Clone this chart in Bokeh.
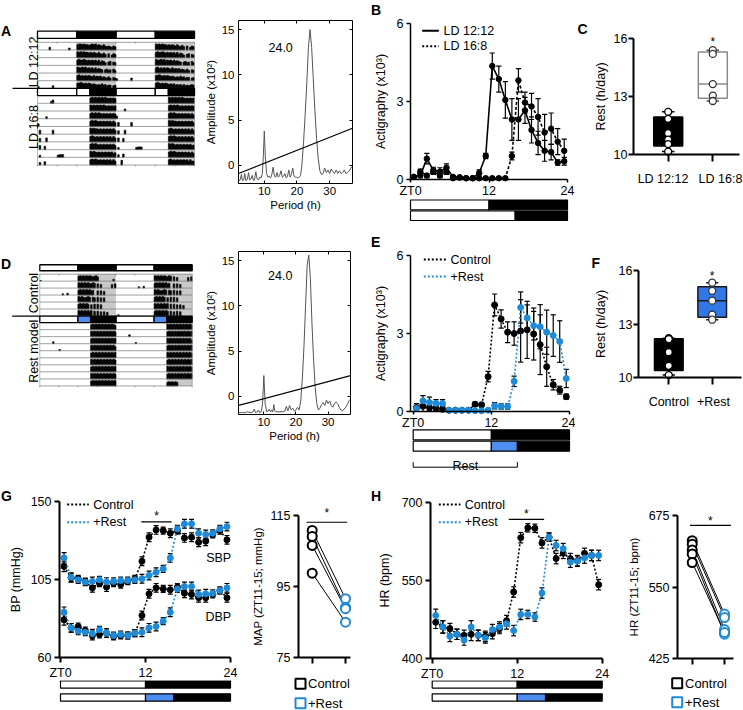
import math
import numpy as np
from bokeh.plotting import figure
from bokeh.models import Range1d, LinearAxis, FixedTicker
from bokeh.layouts import row, column
from bokeh.embed import file_html
from bokeh.resources import INLINE
from bokeh.core.properties import value

FONT = "Liberation Sans"
BLUE = "#1f8ad8"
BOX_BLUE = "#3178e6"
BAR_BLUE = "#4d8ef0"
SHADE = "#c9c9c9"
PHASE = {"light": "white", "dark": "black", "rest": BAR_BLUE}

# ---------------------------------------------------------------- data
sched_1212 = [(0, 12, "light"), (12, 24, "dark")]
sched_168 = [(0, 16, "light"), (16, 24, "dark")]
sched_168_act = [(0, 12, "light"), (12, 16, "light"), (16, 24, "dark")]
sched_rest = [(0, 12, "light"), (12, 16, "rest"), (16, 24, "dark")]
dark_1212 = [(12, 24)]
dark_168 = [(16, 24)]
rest_window = [0, 16]

# actogram activity, one string per day, one digit per 0.5 h bin (0-9 height)
a1212_days = [
    "000000040000000000030000" "899898878989787686565465",
    "000000000000000000000000" "989898878787686575060465",
    "000000000000000000000000" "898898787878685764056054",
    "000000000000000000000000" "988989787868676505645064",
    "000000000000000000000000" "897878787686767565464054",
    "300000000400000000000000" "889878787676565756455045",
    "000000000000000000000000" "898787876767565646454565",
]
a168_days = [
    "00000000350000000000000000000000" "8989898989878787",
    "00000000000000000000000000000000" "9898989898787878",
    "00000300000000000000000000000000" "8989898787878787",
    "40000000000000000000000000000000" "8989878787878686",
    "06000000060000000000000000000000" "9898878787878786",
    "05000600000000000000000000000000" "8987878787878686",
    "06005000000000000000000000000000" "8989878787878786",
    "03000000000034440000000000000000" "9898787878787867",
    "04005000000000000000000000000000" "8989878787878686",
    "00070000000000000000000000000000" "8978787878786866",
]
ctrl_days = [
    "100000000000000000000000" "898989898789700000000030",
    "000000000000000000000000" "989898987980706000000607",
    "000000000000002003000000" "898989897800707060000000",
    "000000000000000000000000" "989878980870807070000000",
    "000000000000000000000000" "898989807080807000000000",
    "000000000000000000000000" "989898989080807070600000",
    "020000000000000000000000" "898989898080708070000000",
]
rest_days = [
    "00000000000000000000000000000000" "8989898989898987",
    "00000000000000000000000000000000" "9898989898989898",
    "00000000300000000000000000000000" "8989898989898989",
    "00000000000020000000000000000000" "9898989898989897",
    "00000000000000000000000000000000" "8989898989898989",
    "00000000000000000000000000000000" "9898989898989898",
    "00000000000000000000000000000000" "8989898989898989",
    "00000000000000000000000000000000" "9898989898989898",
    "00000000000000000000000000000000" "8989898989898989",
    "00000000000000000000000000000000" "6767676000000000",
]

# periodograms
per_a = [2.2, 2.6, 3.0, 3.3, 3.7, 4.0, 4.4, 4.8, 5.2, 5.5, 5.9, 6.3, 6.7, 7.0, 7.4, 7.8, 8.2, 8.6, 9.0, 9.4,
         9.7, 10.0, 10.3, 10.7, 11.1, 11.5, 11.9, 12.3, 12.7, 13.1, 13.5, 13.9, 14.3, 14.7, 15.1, 15.5, 15.9,
         16.3, 16.7, 17.1, 17.5, 17.9, 18.3, 18.7, 19.1, 19.5, 19.9, 20.3, 20.7, 21.1, 21.5, 22.0, 22.5, 23.0,
         23.5, 24.0, 24.5, 25.0, 25.5, 26.0, 26.5, 27.0, 27.5, 28.0, 28.5, 29.0, 29.5, 30.0, 30.5, 31.0, 31.5,
         32.0, 32.5, 33.0, 33.5, 34.0, 34.5, 35.0, 35.5, 36.0, 36.5, 37.0]
amp_a = [-1.7, -1.6, -1.0, -1.7, -1.6, -0.9, -1.7, -1.5, -0.8, -1.6, -1.5, -1.1, -1.7, -1.6, -0.7, -1.5, -1.6,
         -1.3, -1.4, -0.9, 1.0, 3.8, 1.0, -0.9, -1.3, -1.2, -1.4, -1.0, -0.2, -1.2, -1.3, -0.8, -1.3, -1.1, -0.6,
         -1.3, -1.2, -0.9, -1.4, -1.2, -0.5, -1.3, -1.0, -0.3, -1.2, -1.3, -1.3, -1.4, -1.3, -1.1, 0.0, 2.5, 5.5,
         9.0, 13.0, 15.0, 13.0, 9.5, 6.0, 3.0, 0.8, -0.6, -1.0, -0.9, -0.3, -0.8, -0.5, -0.9, -0.4, -0.7, -0.9,
         -0.5, -0.9, -0.6, -0.9, -0.8, -0.5, -0.9, -0.8, -0.6, -0.3, -0.1]
sig_a_x = [2.1, 37.0]
sig_a_y = [-0.9, 4.1]
peak_a = 24.0
per_d = [2.2, 3.0, 4.0, 5.0, 6.0, 6.6, 7.0, 7.4, 8.0, 8.3, 8.7, 9.2, 9.6, 10.0, 10.4, 10.9, 11.4, 11.7, 12.1,
         12.5, 12.8, 13.1, 13.4, 13.7, 14.2, 15.0, 16.0, 16.6, 17.0, 17.5, 18.0, 18.5, 19.0, 19.5, 20.0, 20.5,
         21.0, 21.5, 22.0, 22.5, 23.0, 23.5, 24.0, 24.5, 25.0, 25.5, 26.0, 26.5, 27.0, 27.5, 28.0, 28.5, 29.0,
         29.5, 30.0, 30.5, 31.0, 31.5, 32.0, 32.5, 33.0, 33.5, 34.0, 34.5, 35.0, 35.5, 36.0, 36.5, 37.0]
amp_d = [-1.8, -1.8, -1.8, -1.7, -1.8, -1.7, -1.4, -1.8, -1.7, -1.5, -1.8, -1.7, -0.8, 2.3, -0.8, -1.7, -1.6,
         -1.4, -1.7, -1.5, -1.7, -0.9, -1.6, -1.7, -1.7, -1.7, -1.7, -1.6, -1.1, -1.6, -1.0, -1.5, -1.3, -1.6,
         -1.5, -1.2, -1.5, -0.5, 2.0, 5.5, 10.0, 14.5, 15.6, 13.0, 8.0, 4.0, 1.0, -0.8, -1.5, -1.3, -0.9, -0.7,
         -1.0, -0.4, -0.8, -0.5, -1.0, -1.2, -0.8, -0.6, -0.8, -1.2, -1.5, -1.6, -1.4, -1.2, -0.9, -0.5, -0.3]
sig_d_x = [2.1, 37.0]
sig_d_y = [-1.0, 2.3]
peak_d = 24.0

zt = [0.5, 1.5, 2.5, 3.5, 4.5, 5.5, 6.5, 7.5, 8.5, 9.5, 10.5, 11.5,
      12.5, 13.5, 14.5, 15.5, 16.5, 17.5, 18.5, 19.5, 20.5, 21.5, 22.5, 23.5]

b_ld1212 = [0.10, 0.15, 0.80, 0.35, 0.30, 0.45, 0.10, 0.08, 0.05, 0.05, 0.25, 0.90,
            4.35, 3.85, 3.05, 2.30, 2.30, 2.65, 1.90, 1.40, 1.10, 1.05, 0.65, 0.70]
b_ld1212_sem = [0.05, 0.08, 0.20, 0.12, 0.15, 0.15, 0.05, 0.05, 0.03, 0.03, 0.12, 0.10,
                0.50, 0.50, 0.70, 0.80, 0.80, 0.50, 0.50, 0.45, 0.40, 0.30, 0.10, 0.15]
b_ld168 = [0.10, 0.30, 0.15, 0.30, 0.15, 0.30, 0.05, 0.08, 0.05, 0.05, 0.05, 0.05,
           0.05, 0.05, 0.05, 0.90, 3.80, 2.95, 2.80, 2.40, 1.80, 1.95, 1.45, 1.10]
b_ld168_sem = [0.05, 0.10, 0.08, 0.10, 0.08, 0.10, 0.03, 0.03, 0.03, 0.03, 0.03, 0.03,
               0.03, 0.03, 0.03, 0.15, 0.45, 0.40, 0.50, 0.70, 0.70, 0.60, 0.50, 0.45]

c_groups = ["LD 12:12", "LD 16:8"]
c_ld1212 = [12.21, 11.85, 11.11, 10.78, 10.55, 10.16]
c_ld168 = [15.39, 15.20, 13.64, 13.05, 12.77]

e_control = [0.15, 0.20, 0.15, 0.13, 0.09, 0.05, 0.05, 0.05, 0.05, 0.28, 0.26, 1.34,
             4.10, 3.56, 3.05, 3.00, 3.10, 3.14, 2.98, 2.57, 1.72, 1.03, 0.82, 0.57]
e_control_sem = [0.15, 0.20, 0.12, 0.10, 0.10, 0.05, 0.05, 0.05, 0.05, 0.08, 0.08, 0.20,
                 0.42, 0.35, 0.40, 0.45, 1.20, 1.10, 1.00, 1.15, 0.75, 0.20, 0.15, 0.10]
e_rest = [0.12, 0.41, 0.35, 0.31, 0.31, 0.05, 0.05, 0.05, 0.05, 0.03, 0.03, 0.05,
          0.22, 0.19, 0.19, 1.16, 4.00, 3.60, 3.30, 3.26, 3.05, 2.92, 2.69, 1.27]
e_rest_sem = [0.10, 0.20, 0.20, 0.15, 0.15, 0.03, 0.03, 0.03, 0.03, 0.03, 0.03, 0.03,
              0.12, 0.10, 0.10, 0.20, 0.60, 0.50, 0.55, 0.85, 0.85, 0.80, 0.80, 0.35]

f_groups = ["Control", "+Rest"]
f_control = [12.22, 12.17, 11.44, 10.67, 10.15]
f_rest = [15.34, 14.88, 14.33, 13.54, 13.26]

g_sbp_control = [112.5, 106.0, 105.4, 103.8, 100.2, 102.9, 100.6, 102.9, 102.1, 104.0, 105.4, 115.5,
                 129.3, 133.5, 133.1, 131.6, 133.0, 128.9, 129.3, 126.4, 127.0, 130.9, 133.1, 127.8]
g_sbp_rest = [117.4, 106.3, 104.8, 103.5, 103.9, 104.8, 103.5, 103.9, 104.4, 104.4, 104.8, 105.4,
              107.3, 109.2, 111.1, 117.4, 134.1, 137.0, 137.0, 131.6, 130.9, 131.6, 134.1, 135.4]
g_dbp_control = [81.8, 77.2, 78.0, 75.7, 72.8, 73.4, 74.2, 72.3, 72.8, 72.8, 74.2, 84.3,
                 96.8, 100.2, 99.6, 99.1, 100.6, 97.1, 96.4, 94.5, 94.5, 96.4, 98.7, 94.5]
g_dbp_rest = [86.2, 77.2, 75.3, 74.7, 73.8, 76.1, 74.2, 72.8, 73.4, 72.8, 74.2, 74.7,
              77.2, 78.0, 81.1, 86.2, 99.6, 101.0, 101.0, 96.4, 96.8, 97.1, 98.7, 100.2]
g_sem = [3.0, 2.5, 2.0, 2.0, 2.5, 2.0, 2.5, 2.0, 2.0, 2.0, 2.0, 2.5,
         2.5, 2.5, 2.0, 2.5, 2.0, 2.5, 2.5, 2.5, 2.5, 2.0, 2.0, 2.5]
g_sig = [11.4, 15.7]
map_control = [110.8, 109.1, 106.6, 98.8]
map_rest = [91.6, 89.2, 88.8, 85.0]

h_control = [470, 461, 458, 447, 445, 447, 445, 443, 448, 458, 473, 528,
             632, 651, 650, 622, 633, 592, 602, 592, 588, 602, 598, 542]
h_rest = [483, 461, 443, 447, 436, 461, 445, 440, 456, 461, 467, 454,
          485, 485, 480, 526, 633, 617, 611, 585, 587, 593, 598, 598]
h_sem = [12, 12, 10, 10, 10, 12, 10, 10, 10, 10, 10, 10,
         10, 8, 8, 10, 8, 10, 10, 10, 10, 10, 10, 10]
h_sig = [10.8, 15.8]
hr_control = [631, 625, 615, 608, 593]
hr_rest = [503, 497, 476, 468, 471]


# ---------------------------------------------------------------- helpers
def lin(pa, va, pb, vb):
    return lambda px: va + (px - pa) * (vb - va) / float(pb - pa)


def new_fig(box, frame, x_range, y_range, axes=True):
    fl, fr, ft, fb = box
    xl, xr, yt, yb = frame
    kw = {} if axes else dict(x_axis_type=None, y_axis_type=None)
    p = figure(width=fr - fl, height=fb - ft, x_range=x_range, y_range=y_range,
               min_border_left=xl - fl, min_border_right=fr - xr,
               min_border_top=yt - ft, min_border_bottom=fb - yb,
               output_backend="svg", toolbar_location=None, title=None, **kw)
    p.grid.visible = False
    p.outline_line_color = None
    p.background_fill_color = "white"
    p.border_fill_color = "white"
    return p


def chart(box, xmap, ymap):
    """Figure whose frame fills the whole box; axes are pinned at fixed data locations."""
    fx, fy = lin(*xmap), lin(*ymap)
    fl, fr, ft, fb = box
    p = new_fig(box, box, Range1d(fx(fl), fx(fr)), Range1d(fy(fb), fy(ft)))
    return p, fx, fy


def style_axis(ax, ticks, fs="12.5px", tick_out=4, tick_in=0, standoff=3, lw=1.5,
               label=None, label_fs="12.5px", label_standoff=5, overrides=None, bounds=None,
               fixed=None, minor=None, minor_out=0):
    ax.ticker = FixedTicker(ticks=ticks, minor_ticks=minor or [])
    ax.minor_tick_line_color = "black" if minor else None
    ax.minor_tick_line_width = lw
    ax.minor_tick_out = minor_out
    ax.minor_tick_in = 0
    ax.major_tick_out = tick_out
    ax.major_tick_in = tick_in
    ax.major_tick_line_width = lw
    ax.major_tick_line_color = "black"
    ax.axis_line_width = lw
    ax.axis_line_color = "black"
    ax.major_label_text_font = FONT
    ax.major_label_text_font_size = fs
    ax.major_label_text_color = "black"
    ax.major_label_standoff = standoff
    if fixed is not None:
        ax.fixed_location = fixed
    if bounds is not None:
        ax.bounds = bounds
    if overrides:
        ax.major_label_overrides = overrides
    if label:
        ax.axis_label = label
        ax.axis_label_text_font = FONT
        ax.axis_label_text_font_size = label_fs
        ax.axis_label_text_font_style = "normal"
        ax.axis_label_text_color = "black"
        ax.axis_label_standoff = label_standoff


def add_text(p, x, y, t, fs="12.5px", align="center", baseline="middle", angle=0.0, color="black", style="normal"):
    p.text(x=[x], y=[y], text=[t], text_font=value(FONT), text_font_size=fs, text_align=align,
           text_baseline=baseline, angle=angle, text_color=color, text_font_style=style)


def letter(p, t, x, y):
    add_text(p, x, y, t, fs="14px", align="left", baseline="top", style="bold")


def errorbars(p, x, y, e, cap, color="black", lw=1.2):
    x = np.asarray(x, float); y = np.asarray(y, float); e = np.asarray(e, float)
    p.segment(x0=x, x1=x, y0=y - e, y1=y + e, line_color=color, line_width=lw)
    p.segment(x0=np.r_[x - cap, x - cap], x1=np.r_[x + cap, x + cap],
              y0=np.r_[y + e, y - e], y1=np.r_[y + e, y - e], line_color=color, line_width=lw)


def ld_bar(p, sched, top, bottom, lw=1.2):
    p.quad(left=[s[0] for s in sched], right=[s[1] for s in sched], top=top, bottom=bottom,
           fill_color=[PHASE[s[2]] for s in sched], line_color="black", line_width=lw)


def line_legend(p, fx, fy, x0, x1, tx, entries, fs="12.5px"):
    for label, ypx, color, dash in entries:
        p.line([fx(x0), fx(x1)], [fy(ypx), fy(ypx)], line_color=color, line_width=2, line_dash=dash)
        add_text(p, fx(tx), fy(ypx), label, fs=fs, align="left")


def actogram(box, h0, h48, sections, let, let_xy):
    fl, fr, ft, fb = box
    pxh = (h48 - h0) / 48.0
    xr = Range1d((fl - h0) / pxh, 48 + (fr - h48) / pxh)
    p = new_fig(box, box, xr, Range1d(fb, ft), axes=False)
    for s in sections:
        rt, pitch, n = s["rows_top"], s["pitch"], s["nrows"]
        rb = rt + n * pitch
        dl = [a + off for a, b in s["dark"] for off in (0, 24)]
        dr = [b + off for a, b in s["dark"] for off in (0, 24)]
        p.quad(left=dl, right=dr, top=rt, bottom=rb, fill_color=SHADE, line_color=None)
        L, R, T, B = [], [], [], []
        for r in range(n):
            base = rt + (r + 1) * pitch
            for half in (0, 1):
                day = (s["days"][r + half] + "0" * 48)[:48]
                for i, ch in enumerate(day):
                    v = int(ch)
                    if v > 0:
                        L.append(24 * half + i * 0.5)
                        R.append(24 * half + (i + 1) * 0.5)
                        T.append(base - v / 9.0 * (pitch * 0.78))
                        B.append(base)
        p.quad(left=L, right=R, top=T, bottom=B, fill_color="black", line_color="black", line_width=0.6)
        ys = [rt + k * pitch for k in range(n + 1)]
        p.segment(x0=0, x1=48, y0=ys, y1=ys, line_color="#777777", line_width=0.7)
        p.segment(x0=[0, 48], x1=[0, 48], y0=rt, y1=rb, line_color="#999999", line_width=0.7)
        bt, bb = s["bar"]
        seg = [(a + off, b + off, ph) for (a, b, ph) in s["sched"] for off in (0, 24)]
        ld_bar(p, seg, bt, bb, lw=1.3)
        if s.get("sep_px") is not None:
            p.segment(x0=[(s["sep_px"] - h0) / pxh], x1=[0], y0=[bt], y1=[bt], line_color="black", line_width=1.3)
        add_text(p, (s["label_px"] - h0) / pxh, s["label_y"], s["label"], angle=math.pi / 2)
    last = sections[-1]
    yb_ = last["rows_top"] + last["nrows"] * last["pitch"]
    tk = [0, 6, 12, 18, 24, 30, 36, 42, 48]
    p.segment(x0=tk, x1=tk, y0=yb_, y1=yb_ + 2, line_color="#777777", line_width=0.7)
    first = sections[0]
    p.segment(x0=tk, x1=tk, y0=first["rows_top"], y1=first["rows_top"] + 2, line_color="#777777", line_width=0.7)
    letter(p, let, (let_xy[0] - h0) / pxh, let_xy[1])
    return p


def periodogram(box, frame, per, amp, sx, sy, peak, peak_xy):
    p = new_fig(box, frame, Range1d(2.1, 37), Range1d(-2, 16))
    p.outline_line_color = "black"
    p.outline_line_width = 1
    style_axis(p.xaxis[0], [10, 20, 30], fs="11.5px", tick_out=0, tick_in=3, standoff=3, lw=1,
               label="Period (h)", label_fs="11.5px", label_standoff=1)
    style_axis(p.yaxis[0], [0, 5, 10, 15], fs="11.5px", tick_out=0, tick_in=3, standoff=4, lw=1,
               label="Amplitude (x10²)", label_fs="11.5px", label_standoff=2)
    p.xaxis[0].axis_line_color = None
    p.yaxis[0].axis_line_color = None
    for side, tks in (("above", [10, 20, 30]), ("right", [0, 5, 10, 15])):
        ax = LinearAxis(ticker=FixedTicker(ticks=[], minor_ticks=tks), minor_tick_in=3, minor_tick_out=0,
                        minor_tick_line_color="black", minor_tick_line_width=1,
                        major_tick_line_color=None, axis_line_color=None)
        p.add_layout(ax, side)
    p.line(per, amp, line_color="#555555", line_width=1)
    p.line(sx, sy, line_color="black", line_width=1.2)
    add_text(p, peak_xy[0], peak_xy[1], "%.1f" % peak)
    return p


def box_panel(p, pos, vals, fill, edge, median, whisk, pt_edge, half=0.33, cap=0.14):
    q1, med, q3 = np.percentile(vals, [25, 50, 75], method="weibull")
    lo, hi = min(vals), max(vals)
    p.segment(x0=[pos, pos], x1=[pos, pos], y0=[q3, q1], y1=[hi, lo], line_color=whisk, line_width=1.5)
    p.segment(x0=[pos - cap] * 2, x1=[pos + cap] * 2, y0=[hi, lo], y1=[hi, lo], line_color=whisk, line_width=1.5)
    p.quad(left=pos - half, right=pos + half, top=q3, bottom=q1, fill_color=fill, line_color=edge, line_width=1.5)
    p.segment(x0=[pos - half], x1=[pos + half], y0=[med], y1=[med], line_color=median, line_width=1.5)
    p.scatter(x=[pos] * len(vals), y=vals, size=7, fill_color="white", line_color=pt_edge, line_width=1.3)


def box_fig(box, xmap, ymap, spine, groups, label_px, a, b, styles, let, let_xy, label_standoff, star_px):
    p, fx, fy = chart(box, xmap, ymap)
    sx, sy, sx_end = spine
    style_axis(p.yaxis[0], [10, 13, 16], tick_out=5, standoff=1, lw=2, label="Rest (h/day)",
               label_standoff=label_standoff, bounds=(10, 16), fixed=fx(sx))
    lp = [round(fx(v), 4) for v in label_px]
    style_axis(p.xaxis[0], lp, tick_out=0, standoff=10, lw=2,
               overrides={lp[0]: groups[0], lp[1]: groups[1]}, bounds=(fx(sx), fx(sx_end)),
               fixed=10, minor=[1, 2], minor_out=7)
    p.xaxis[0].major_tick_line_color = None
    box_panel(p, 1, a, **styles[0])
    box_panel(p, 2, b, **styles[1])
    add_text(p, 2, fy(star_px), "*", fs="12px")
    letter(p, let, fx(let_xy[0]), fy(let_xy[1]))
    return p


# ---------------------------------------------------------------- row 1
pA = actogram((0, 200, 0, 228), 37, 194, [
    dict(bar=(15, 25), rows_top=30.5, pitch=10.75, nrows=6, days=a1212_days, dark=dark_1212,
         sched=sched_1212, label="LD 12:12", label_px=33, label_y=58, sep_px=None),
    dict(bar=(95, 105), rows_top=105, pitch=10.8, nrows=9, days=a168_days, dark=dark_168,
         sched=sched_168_act, label="LD 16:8", label_px=33, label_y=149, sep_px=12),
], "A", (0.5, 3))

pAp = periodogram((200, 370, 0, 228), (238, 352, 20, 183), per_a, amp_a, sig_a_x, sig_a_y, peak_a, (15.0, 13.0))

pB, fxB, fyB = chart((370, 575, 0, 196), (410, 0, 567, 24), (179, 0, 22.5, 6))
style_axis(pB.xaxis[0], [0, 12, 24], tick_out=3, standoff=1, lw=1.5, overrides={0: "ZT0"}, bounds=(0, 24), fixed=0)
style_axis(pB.yaxis[0], [0, 3, 6], tick_out=4, standoff=3, lw=1.5, label="Actigraphy (x10³)",
           label_standoff=6, bounds=(0, 6), fixed=0)
errorbars(pB, zt, b_ld1212, b_ld1212_sem, 0.4)
errorbars(pB, zt, b_ld168, b_ld168_sem, 0.4)
pB.line(zt, b_ld1212, line_color="black", line_width=1.6)
pB.line(zt, b_ld168, line_color="black", line_width=1.6, line_dash="3 2")
pB.scatter(zt, b_ld1212, size=5.5, color="black")
pB.scatter(zt, b_ld168, size=5.5, color="black")
line_legend(pB, fxB, fyB, 421.7, 438.3, 443, [("LD 12:12", 30.3, "black", "solid"),
                                              ("LD 16:8", 45.7, "black", "2 2")])
letter(pB, "B", fxB(370.5), fyB(1))
pBb = new_fig((370, 575, 196, 228), (370, 575, 196, 228), pB.x_range, Range1d(228, 196), axes=False)
ld_bar(pBb, sched_1212, 199.5, 209.3)
ld_bar(pBb, sched_168, 210.5, 220.0)

pC = box_fig((575, 743, 0, 228), (667.7, 1, 712.3, 2), (187.7, 10, 25, 16), (633, 10, 739),
             c_groups, [662.5, 720], c_ld1212, c_ld168, [
                 dict(fill="black", edge="black", median="black", whisk="black", pt_edge="black", half=0.325),
                 dict(fill="white", edge="#8a8a8a", median="#8a8a8a", whisk="#555555", pt_edge="#333333", half=0.325),
             ], "C", (577, 1), 3, 30.7)

# ---------------------------------------------------------------- row 2
pD = actogram((0, 200, 228, 478), 39.3, 191.7, [
    dict(bar=(248.3, 257.5), rows_top=262.7, pitch=10.7, nrows=6, days=ctrl_days, dark=dark_1212,
         sched=sched_1212, label="Control", label_px=33, label_y=291.7, sep_px=None),
    dict(bar=(327, 337), rows_top=337, pitch=10.8, nrows=9, days=rest_days, dark=dark_168,
         sched=sched_rest, label="Rest model", label_px=33, label_y=381, sep_px=11.7),
], "D", (0.5, 235))

pDp = periodogram((200, 370, 228, 478), (238, 350, 251, 414), per_d, amp_d, sig_d_x, sig_d_y, peak_d, (15.1, 13.3))

pE, fxE, fyE = chart((370, 575, 228, 428), (412.7, 0, 569, 24), (411, 0, 255, 6))
style_axis(pE.xaxis[0], [0, 12, 24], tick_out=3, standoff=1, lw=1.5, overrides={0: "ZT0"},
           bounds=(fxE(410), 24), fixed=0)
style_axis(pE.yaxis[0], [0, 3, 6], tick_out=4, standoff=3, lw=1.5, label="Actigraphy (x10³)",
           label_standoff=6, bounds=(0, 6), fixed=fxE(410))
errorbars(pE, zt, e_control, e_control_sem, 0.4)
errorbars(pE, zt, e_rest, e_rest_sem, 0.4)
pE.line(zt, e_control, line_color="black", line_width=1.6, line_dash="2 2")
pE.line(zt, e_rest, line_color=BLUE, line_width=1.6, line_dash="2 2")
pE.scatter(zt, e_control, size=6, color="black")
pE.scatter(zt, e_rest, size=6, color=BLUE)
line_legend(pE, fxE, fyE, 423.3, 446.7, 450, [("Control", 259, "black", "2 2"), ("+Rest", 276, BLUE, "2 2")])
letter(pE, "E", fxE(370.5), fyE(233))
pEb = new_fig((370, 575, 428, 478), (370, 575, 428, 478), pE.x_range, Range1d(478, 428), axes=False)
ld_bar(pEb, sched_1212, 429.3, 439.3)
ld_bar(pEb, sched_rest, 440.7, 450.7)
pEb.segment(x0=[rest_window[0], rest_window[0], rest_window[1]], x1=[rest_window[1], rest_window[0], rest_window[1]],
            y0=[466.7, 466.7, 466.7], y1=[466.7, 461.7, 461.7], line_color="black", line_width=1)
add_text(pEb, (rest_window[0] + rest_window[1]) / 2.0, 465.0, "Rest", baseline="alphabetic")

pF = box_fig((575, 743, 228, 478), (668.3, 1, 711.7, 2), (421.7, 10, 257.7, 16), (638, 10, 741),
             f_groups, [668.3, 713], f_control, f_rest, [
                 dict(fill="black", edge="black", median="black", whisk="black", pt_edge="black", half=0.33),
                 dict(fill=BOX_BLUE, edge="#1a1a1a", median="#1a1a1a", whisk="#1a1a1a", pt_edge="#333333", half=0.33),
             ], "F", (591, 234), 8, 265)


# ---------------------------------------------------------------- row 3
def cardio(box, xmap, ymap, spine_x, yticks, ylabel, lab_so, series, sig, sig_y, star_y, leg_px, let):
    p, fx, fy = chart(box, xmap, ymap)
    style_axis(p.xaxis[0], [0, 12, 24], tick_out=5, standoff=3, lw=2, overrides={0: "ZT0"},
               bounds=(fx(spine_x), 24), fixed=yticks[0])
    style_axis(p.yaxis[0], yticks, tick_out=5, standoff=3, lw=2, label=ylabel, label_standoff=lab_so,
               bounds=(yticks[0], yticks[-1]), fixed=fx(spine_x))
    for ys, es, col in series:
        errorbars(p, zt, ys, es, 0.35, color="black", lw=1.2)
        p.line(zt, ys, line_color=col, line_width=1.6, line_dash="2 2")
        p.scatter(zt, ys, size=6, color=col)
    p.line(sig, [sig_y, sig_y], line_color="black", line_width=1.2)
    add_text(p, (sig[0] + sig[1]) / 2.0, star_y, "*", fs="12px")
    x0, x1, tx = leg_px
    line_legend(p, fx, fy, x0, x1, tx, [("Control", 504, "black", "2 2"), ("+Rest", 521.7, BLUE, "2 2")])
    letter(p, let[0], fx(let[1]), fy(487))
    return p, fx, fy


pG, fxG, fyG = cardio((0, 240, 478, 680), (60, 0, 230, 24), (657.3, 60, 500.7, 150), 59,
                      [60, 105, 150], "BP (mmHg)", 5,
                      [(g_sbp_control, g_sem, "black"), (g_sbp_rest, g_sem, BLUE),
                       (g_dbp_control, g_sem, "black"), (g_dbp_rest, g_sem, BLUE)],
                      g_sig, 138.1, 141.5, (66.7, 88.3, 92.7), ("G", 0.5))
add_text(pG, 24.1, 117.1, "SBP", align="right")
add_text(pG, 24.1, 83.7, "DBP", align="right")
pGb = new_fig((0, 240, 680, 710), (0, 240, 680, 710), pG.x_range, Range1d(710, 680), axes=False)
ld_bar(pGb, sched_1212, 680.3, 687.6)
ld_bar(pGb, sched_rest, 693.3, 700.7)

pH, fxH, fyH = cardio((370, 612, 478, 680), (431.7, 0, 601.7, 24), (658.3, 400, 501.7, 700), 430,
                      [400, 550, 700], "HR (bpm)", 7,
                      [(h_control, h_sem, "black"), (h_rest, h_sem, BLUE)],
                      h_sig, 667, 677, (438.3, 460, 464.3), ("H", 370.5))
pHb = new_fig((370, 612, 680, 710), (370, 612, 680, 710), pH.x_range, Range1d(710, 680), axes=False)
ld_bar(pHb, sched_1212, 680.3, 687.6)
ld_bar(pHb, sched_rest, 693.3, 700.7)


def paired(box, xmap, ymap, spine, yticks, ylabel, lab_so, ctrl, rest, sig_x, sig_y, star_y, leg):
    p, fx, fy = chart(box, xmap, ymap)
    sx, sx_end = spine
    style_axis(p.yaxis[0], yticks, fs="12.5px", tick_out=5, standoff=3, lw=2, label=ylabel,
               label_fs="11.5px", label_standoff=lab_so, bounds=(yticks[0], yticks[-1]), fixed=fx(sx))
    style_axis(p.xaxis[0], [], lw=2, bounds=(fx(sx), fx(sx_end)), fixed=yticks[0], minor=[1, 2], minor_out=6)
    p.multi_line(xs=[[1, 2] for _ in ctrl], ys=[[c, r] for c, r in zip(ctrl, rest)], line_color="black", line_width=1)
    p.scatter(x=[1] * len(ctrl), y=ctrl, size=9, fill_color="white", line_color="black", line_width=2)
    p.scatter(x=[2] * len(rest), y=rest, size=9, fill_color="white", line_color=BLUE, line_width=2)
    p.line(sig_x, [sig_y, sig_y], line_color="black", line_width=1.2)
    add_text(p, (sig_x[0] + sig_x[1]) / 2.0, star_y, "*", fs="12px")
    sq_x, tx, ys = leg
    for (label, color), y in zip([("Control", "black"), ("+Rest", BLUE)], ys):
        p.scatter(x=[fx(sq_x)], y=[fy(y)], marker="square", size=10, fill_color=None, line_color=color, line_width=2)
        add_text(p, fx(tx), fy(y), label, fs="13px", align="left")
    return p


pGs = paired((240, 370, 478, 710), (311.7, 1, 345, 2), (657.3, 75, 515, 115), (298, 350),
             [75, 95, 115], "MAP (ZT11-15; mmHg)", 4, map_control, map_rest, [0.83, 2.05], 113.1, 115.6,
             (300, 307.5, [683.3, 702.7]))
pHs = paired((612, 743, 478, 710), (691.7, 1, 724, 2), (658.3, 425, 515, 675), (677, 733),
             [425, 550, 675], "HR (ZT11-15; bpm)", 6, hr_control, hr_rest, [0.93, 2.2], 657.6, 665.0,
             (676.7, 684.5, [682.7, 701.7]))

layout = column(
    row(pA, pAp, column(pB, pBb), pC),
    row(pD, pDp, column(pE, pEb), pF),
    row(column(pG, pGb), pGs, column(pH, pHb), pHs),
)

open("out.html", "w").write(file_html(layout, INLINE))
